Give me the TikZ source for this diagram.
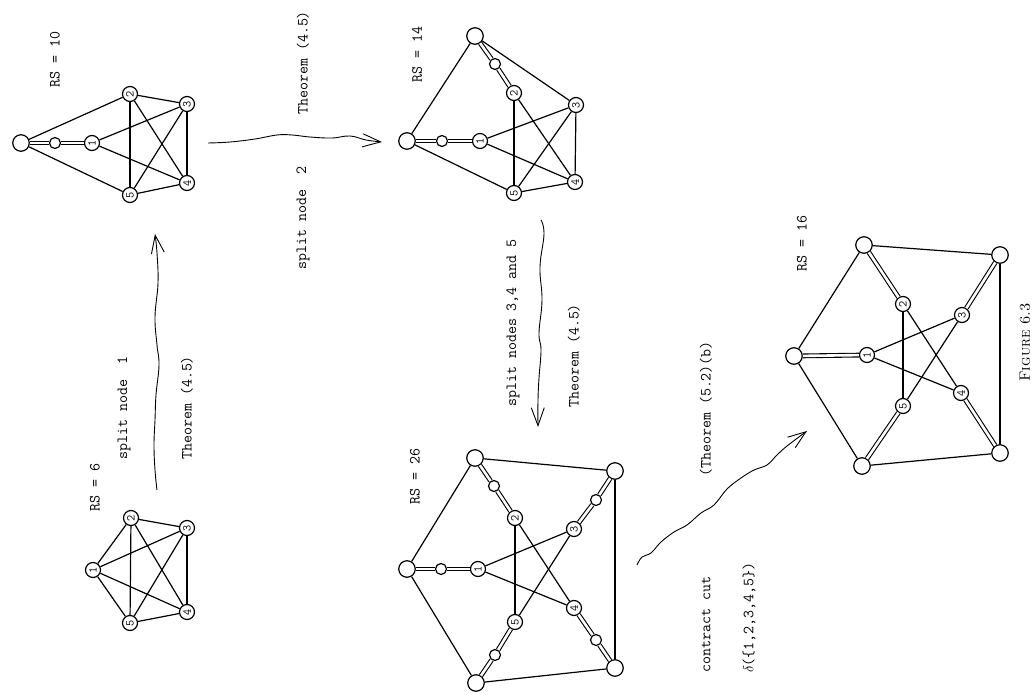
\documentclass[tikz,border=0pt]{standalone}
\usepackage{fontspec}
\usetikzlibrary{arrows.meta}
\tikzset{
  lbl/.style={rotate=90, anchor=west, inner sep=0pt, font=\ttfamily\fontsize{15.5}{18}\selectfont},
  big/.style={circle, draw, fill=white, minimum size=16.5pt, inner sep=0pt, line width=1.2pt},
  sml/.style={circle, draw, fill=white, minimum size=11pt, inner sep=0pt, line width=1.2pt},
  num/.style={circle, draw, fill=white, minimum size=15pt, inner sep=0pt, line width=1.2pt, rotate=90, font=\ttfamily\fontsize{12}{12}\selectfont},
  edg/.style={line width=1.2pt},
  dbl/.style={double, double distance=2.6pt, line width=1.1pt},
  wavy/.style={line width=0.9pt, -{Straight Barb[length=18pt, width=13pt, line width=0.9pt]}}
}
\begin{document}
\begin{tikzpicture}[x=1pt,y=-1pt]
\useasboundingbox (0,0) rectangle (1034,695);

% ---------- labels ----------
\node[lbl] (rs10) at (55,88) {RS = 10};
\node[lbl] (th2) at (303,115) {Theorem (4.5)};
\node[lbl] (sp2) at (303,270) {split node~~2};
\node[lbl] (rs14) at (417,83) {RS = 14};
\node[lbl] (rs6) at (95,512) {RS = 6};
\node[lbl] (sp1) at (124,460) {split node~~1};
\node[lbl] (th1) at (187,460) {Theorem (4.5)};
\node[lbl] (rs26) at (415,505) {RS = 26};
\node[lbl] (sp3) at (513,407) {split nodes 3,4 and 5};
\node[lbl] (th3) at (574,408) {Theorem (4.5)};
\node[lbl] (th52) at (706,477) {(Theorem (5.2)(b)};
\node[lbl] (cc) at (706,673) {contract cut};
\node[lbl] (dl) at (749,673) {$\delta$(\{1,2,3,4,5\})};
\node[lbl] (rs16) at (802,272) {RS = 16};
\node[rotate=90, anchor=west, inner sep=0pt, font=\rmfamily\fontsize{15}{17}\selectfont] (fig) at (1025,382) {\textsc{Figure 6.3}};

% ---------- graph 1 (RS = 6) ----------
\node[num] (a1) at (93,570) {1};
\node[num] (a2) at (131,518) {2};
\node[num] (a3) at (187,528) {3};
\node[num] (a4) at (187,612) {4};
\node[num] (a5) at (130,623) {5};
\foreach \u/\v in {a1/a2,a1/a3,a1/a4,a1/a5,a2/a3,a2/a4,a2/a5,a3/a4,a3/a5,a4/a5}
  \draw[edg] (\u) -- (\v);

% ---------- graph 2 (RS = 10) ----------
\node[big] (bH) at (21,143) {};
\node[sml] (bs) at (55,143) {};
\node[num] (b1) at (92,143) {1};
\node[num] (b2) at (130,94) {2};
\node[num] (b3) at (187,104) {3};
\node[num] (b4) at (187,183) {4};
\node[num] (b5) at (130,195) {5};
\draw[dbl] (bH) -- (bs);
\draw[dbl] (bs) -- (b1);
\foreach \u/\v in {bH/b2,bH/b5,b1/b3,b1/b4,b2/b3,b2/b4,b2/b5,b3/b4,b3/b5,b4/b5}
  \draw[edg] (\u) -- (\v);

% ---------- graph 3 (RS = 14) ----------
\node[big] (cH) at (407,141) {};
\node[sml] (cs) at (442,141) {};
\node[num] (c1) at (480,141) {1};
\node[big] (cT) at (475,36) {};
\node[sml] (ct) at (495,64) {};
\node[num] (c2) at (514,93) {2};
\node[num] (c3) at (576,105) {3};
\node[num] (c4) at (575,182) {4};
\node[num] (c5) at (514,193) {5};
\draw[dbl] (cH) -- (cs);
\draw[dbl] (cs) -- (c1);
\draw[dbl] (cT) -- (ct);
\draw[dbl] (ct) -- (c2);
\foreach \u/\v in {cH/cT,cH/c5,cT/c3,c1/c3,c1/c4,c2/c4,c2/c5,c3/c4,c3/c5,c4/c5}
  \draw[edg] (\u) -- (\v);

% ---------- graph 4 (RS = 26) ----------
\node[big] (dH) at (407,569) {};
\node[sml] (ds) at (441,569) {};
\node[num] (d1) at (478,569) {1};
\node[big] (dT) at (475,458) {};
\node[sml] (dt) at (494,486) {};
\node[num] (d2) at (515,518) {2};
\node[big] (dR) at (615,471) {};
\node[sml] (dr) at (596,500) {};
\node[num] (d3) at (574,529) {3};
\node[big] (dB) at (615,668) {};
\node[sml] (db) at (596,640) {};
\node[num] (d4) at (574,608) {4};
\node[big] (dL) at (476,683) {};
\node[sml] (dl2) at (495,655) {};
\node[num] (d5) at (515,622) {5};
\foreach \u/\v in {dH/ds,ds/d1,dT/dt,dt/d2,dR/dr,dr/d3,dB/db,db/d4,dL/dl2,dl2/d5}
  \draw[dbl] (\u) -- (\v);
\foreach \u/\v in {dH/dT,dH/dL,dT/dR,dR/dB,dB/dL,d1/d3,d1/d4,d2/d4,d2/d5,d3/d5}
  \draw[edg] (\u) -- (\v);

% ---------- graph 5 (RS = 16) ----------
\node[big] (eH) at (794,356) {};
\node[num] (e1) at (867,355) {1};
\node[big] (eT) at (864,245) {};
\node[num] (e2) at (903,304) {2};
\node[big] (eR) at (1000,255) {};
\node[num] (e3) at (962,315) {3};
\node[big] (eB) at (1000,453) {};
\node[num] (e4) at (961,393) {4};
\node[big] (eL) at (862,466) {};
\node[num] (e5) at (903,406) {5};
\foreach \u/\v in {eH/e1,eT/e2,eR/e3,eB/e4,eL/e5}
  \draw[dbl] (\u) -- (\v);
\foreach \u/\v in {eH/eT,eH/eL,eT/eR,eR/eB,eB/eL,e1/e3,e1/e4,e2/e4,e2/e5,e3/e5}
  \draw[edg] (\u) -- (\v);

% ---------- wavy arrows ----------
\coordinate (w1s) at (157,490);
\coordinate (w1e) at (155,234);
\draw[wavy] plot[smooth, tension=0.7] coordinates {(w1s) (155,470) (154,445) (155,420) (156,395) (159,365) (157,345) (155,317) (158,283) (157,253) (w1e)};

\coordinate (w2s) at (208,143);
\coordinate (w2e) at (382,142);
\draw[wavy] plot[smooth, tension=0.7] coordinates {(w2s) (230,142) (255,139) (277,135) (292,135) (310,137) (332,138) (350,136) (366,140) (w2e)};

\coordinate (w3s) at (541,220);
\coordinate (w3e) at (538,427);
\draw[wavy] plot[smooth, tension=0.7] coordinates {(w3s) (544,234) (540,267) (542,300) (539,333) (541,350) (539,378) (538,400) (w3e)};

\coordinate (w4s) at (637,565);
\coordinate (w4e) at (807,431);
\draw[wavy] plot[smooth, tension=0.6] coordinates {(w4s) (642,557) (651,553) (661,542) (674,532) (687,525) (701,513) (714,505) (727,489) (741,478) (754,470) (767,465) (777,455) (787,446) (w4e)};
\end{tikzpicture}
\end{document}
